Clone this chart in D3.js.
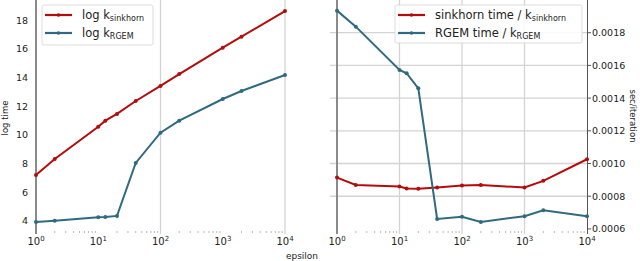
<!DOCTYPE html>
<html>
<head>
<meta charset="utf-8">
<script src="https://d3js.org/d3.v7.min.js"></script>
<style>
  body { margin: 0; background: #fff; }
  svg text { font-family: "DejaVu Sans", sans-serif; fill: #222; }
</style>
</head>
<body>
<div id="chart"></div>
<script>
// epsilon values (shared by both panels)
var eps = [1, 2, 10, 13, 20, 40, 100, 200, 1000, 2000, 10000];

// left panel: log iteration counts
var logKSinkhorn = [7.2, 8.32, 10.57, 10.99, 11.46, 12.36, 13.41, 14.24, 16.08, 16.84, 18.63];
var logKRgem     = [3.93, 4.02, 4.26, 4.28, 4.35, 8.04, 10.15, 10.99, 12.5, 13.06, 14.17];

// right panel: seconds per iteration
var sinkhornPerIter = [0.000914, 0.000869, 0.000859, 0.000847, 0.000845, 0.000853, 0.000865, 0.000869, 0.000853, 0.000894, 0.001026];
var rgemPerIter     = [0.001935, 0.001837, 0.001572, 0.001552, 0.00146, 0.000661, 0.000675, 0.000643, 0.000678, 0.000714, 0.000678];

var leftTicks = [4, 6, 8, 10, 12, 14, 16, 18];
var rightTicks = [0.0006, 0.0008, 0.0010, 0.0012, 0.0014, 0.0016, 0.0018];
var decades = [1, 10, 100, 1000, 10000];

var red = "#b30c0c", blue = "#2f6a80";

var width = 640, height = 261;
var svg = d3.select("#chart").append("svg")
  .attr("width", width).attr("height", height);

// minor tick positions 2..9 per decade
var minor = [];
[1, 10, 100, 1000].forEach(function(d) {
  for (var i = 2; i < 10; i++) minor.push(d * i);
});

function supLabel(g, x, y, exp) {
  var t = g.append("text").attr("x", x).attr("y", y)
    .attr("text-anchor", "middle").style("font-size", "10px");
  t.append("tspan").text("10");
  t.append("tspan").attr("dy", -4).style("font-size", "7px").text(exp);
}

function legend(g, x0, y0, w, h, items) {
  g.append("rect").attr("x", x0).attr("y", y0).attr("width", w).attr("height", h)
    .attr("rx", 2).attr("fill", "#fff").attr("fill-opacity", 0.85)
    .attr("stroke", "#ddd").attr("stroke-width", 1);
  items.forEach(function(it, i) {
    var yy = y0 + 10 + i * 18;
    g.append("line").attr("x1", x0 + 3).attr("x2", x0 + 30).attr("y1", yy).attr("y2", yy)
      .attr("stroke", it.color).attr("stroke-width", 2.2);
    g.append("circle").attr("cx", x0 + 16.5).attr("cy", yy).attr("r", 1.8).attr("fill", it.color);
    var t = g.append("text").attr("x", x0 + 40).attr("y", yy + 4).style("font-size", "11.5px");
    t.append("tspan").text(it.main);
    t.append("tspan").attr("dy", 2).style("font-size", "8px").text(it.sub);
  });
}

function series(g, x, y, vals, color) {
  var pts = eps.map(function(e, i) { return [e, vals[i]]; });
  g.append("path").datum(pts)
    .attr("fill", "none").attr("stroke", color).attr("stroke-width", 2)
    .attr("d", d3.line().x(function(d) { return x(d[0]); }).y(function(d) { return y(d[1]); }));
  g.selectAll(null).data(pts).enter().append("circle")
    .attr("cx", function(d) { return x(d[0]); })
    .attr("cy", function(d) { return y(d[1]); })
    .attr("r", 2).attr("fill", color);
}

// ---------- left panel ----------
var xL = d3.scaleLog().domain([1, 10000]).range([36, 285]);
var yL = d3.scaleLinear().domain([3.09, 19.4]).range([234, 0]);
var gL = svg.append("g");

gL.selectAll(null).data([100, 10000]).enter().append("line")
  .attr("x1", xL).attr("x2", xL).attr("y1", 0).attr("y2", 234)
  .attr("stroke", "#d4d4d4").attr("stroke-width", 1.3);

gL.selectAll(null).data(minor).enter().append("line")
  .attr("x1", xL).attr("x2", xL).attr("y1", 231).attr("y2", 233)
  .attr("stroke", "#bbb").attr("stroke-width", 1);

gL.append("line").attr("x1", 36).attr("x2", 36).attr("y1", 0).attr("y2", 234)
  .attr("stroke", "#8a8a8a").attr("stroke-width", 2);

gL.selectAll(null).data(leftTicks).enter().append("text")
  .attr("x", 28).attr("y", function(d) { return yL(d) + 3.5; })
  .attr("text-anchor", "end").style("font-size", "9.5px")
  .text(function(d) { return d; });

decades.forEach(function(d, i) { supLabel(gL, xL(d), 245, i); });

series(gL, xL, yL, logKSinkhorn, red);
series(gL, xL, yL, logKRgem, blue);

gL.append("text").attr("transform", "translate(8,118) rotate(-90)")
  .attr("text-anchor", "middle").style("font-size", "8.5px").text("log time");

gL.append("text").attr("x", 302).attr("y", 259)
  .attr("text-anchor", "middle").style("font-size", "9px").text("epsilon");

legend(gL, 42, 5, 111, 40, [
  { color: red, main: "log k", sub: "sinkhorn" },
  { color: blue, main: "log k", sub: "RGEM" }
]);

// ---------- right panel ----------
var xR = d3.scaleLog().domain([1, 10000]).range([337, 587]);
var yR = d3.scaleLinear().domain([0.000569, 0.0020]).range([234, 0]);
var gR = svg.append("g");

gR.selectAll(null).data([10, 100, 1000]).enter().append("line")
  .attr("x1", xR).attr("x2", xR).attr("y1", 0).attr("y2", 234)
  .attr("stroke", "#d4d4d4").attr("stroke-width", 1.3);

gR.selectAll(null).data(rightTicks.slice(1)).enter().append("line")
  .attr("x1", 330).attr("x2", 587).attr("y1", yR).attr("y2", yR)
  .attr("stroke", "#d4d4d4").attr("stroke-width", 1.3);

gR.selectAll(null).data(minor).enter().append("line")
  .attr("x1", xR).attr("x2", xR).attr("y1", 231).attr("y2", 233)
  .attr("stroke", "#bbb").attr("stroke-width", 1);

gR.append("line").attr("x1", 337).attr("x2", 337).attr("y1", 0).attr("y2", 234)
  .attr("stroke", "#8a8a8a").attr("stroke-width", 2);
gR.append("line").attr("x1", 587.5).attr("x2", 587.5).attr("y1", 0).attr("y2", 234)
  .attr("stroke", "#555").attr("stroke-width", 1);

gR.selectAll(null).data(rightTicks).enter().append("line")
  .attr("x1", 587.5).attr("x2", 591).attr("y1", yR).attr("y2", yR)
  .attr("stroke", "#555").attr("stroke-width", 1);

gR.selectAll(null).data(rightTicks).enter().append("text")
  .attr("x", 592).attr("y", function(d) { return yR(d) + 3.5; })
  .style("font-size", "9.5px")
  .text(function(d) { return d3.format(".4f")(d); });

decades.forEach(function(d, i) { supLabel(gR, xR(d), 245, i); });

series(gR, xR, yR, sinkhornPerIter, red);
series(gR, xR, yR, rgemPerIter, blue);

gR.append("text").attr("transform", "translate(630,116) rotate(90)")
  .attr("text-anchor", "middle").style("font-size", "8.5px").text("sec/iteration");

legend(gR, 395, 5, 187, 38, [
  { color: red, main: "sinkhorn time / k", sub: "sinkhorn" },
  { color: blue, main: "RGEM time / k", sub: "RGEM" }
]);
</script>
</body>
</html>
